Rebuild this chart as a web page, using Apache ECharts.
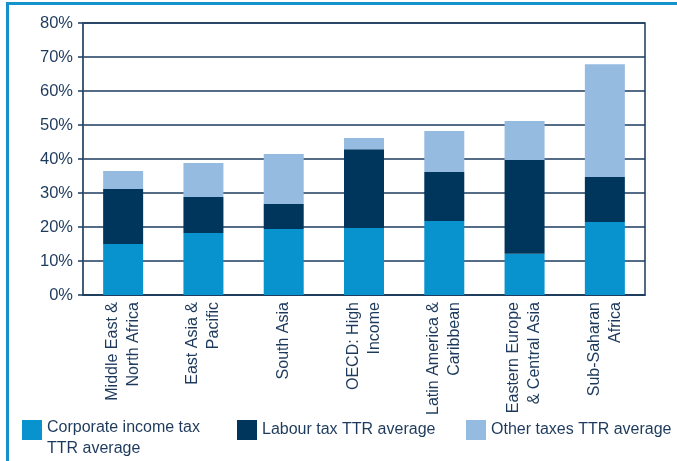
<!DOCTYPE html>
<html>
<head>
    <meta charset="UTF-8"/>
    <script src="https://cdn.jsdelivr.net/npm/echarts@6/dist/echarts.min.js"></script>
    <title>Total tax rate by region</title>
    <style>
        body { margin: 0; background: #fff; }
        #main { position: absolute; left: 0; top: 0; width: 677px; height: 461px; }
        #frame {
            position: absolute; left: 6px; top: 2px; width: 680px; height: 456px;
            border-left: 3px solid #1790cb; border-top: 3px solid #1593cc;
            border-bottom: 2px solid #b0def2; pointer-events: none;
        }
    </style>
</head>
<body>
<div id="main"></div>
<div id="frame"></div>
<script type="text/javascript">
    var regions = ['Middle East &\nNorth Africa', 'East Asia &\nPacific', 'South Asia',
        'OECD: High\nIncome', 'Latin America &\nCaribbean', 'Eastern Europe\n& Central Asia',
        'Sub-Saharan\nAfrica'];
    // values in % of commercial profit
    var corporateTax = [15.0, 18.2, 19.4, 19.7, 21.8, 12.1, 21.5];
    var labourTax = [16.2, 10.6, 7.4, 23.2, 14.4, 27.6, 13.2];
    var otherTaxes = [5.3, 10.0, 14.7, 3.3, 12.0, 11.5, 33.2];

    var textColor = '#1d3a5c';
    var font = 'Liberation Sans, Arial, sans-serif';

    var myChart = echarts.init(document.getElementById('main'));
    var option = {
        animation: false,
        textStyle: {fontFamily: font},
        grid: {
            left: 83, right: 32, top: 23, bottom: 166,
            show: true, borderColor: '#1d3b5e', borderWidth: 1.5
        },
        legend: [
            {
                data: ['Corporate income tax TTR average'],
                left: 22, top: 420, padding: 0,
                itemWidth: 20, itemHeight: 20, itemGap: 5,
                icon: 'rect',
                // first line sits level with the swatch, second one hangs below it
                formatter: function () { return '{a|Corporate income tax}\n{b|TTR average}'; },
                textStyle: {
                    fontSize: 16, color: textColor,
                    rich: {
                        a: {fontSize: 16, color: textColor, lineHeight: 38},
                        b: {fontSize: 16, color: textColor, lineHeight: 4}
                    }
                }
            },
            {
                data: ['Labour tax TTR average'],
                left: 237, top: 420, padding: 0,
                itemWidth: 20, itemHeight: 20,
                icon: 'rect',
                textStyle: {fontSize: 16, color: textColor}
            },
            {
                data: ['Other taxes TTR average'],
                left: 466, top: 420, padding: 0,
                itemWidth: 20, itemHeight: 20,
                icon: 'rect',
                textStyle: {fontSize: 16, color: textColor}
            }
        ],
        xAxis: {
            type: 'category',
            data: regions,
            axisLine: {lineStyle: {color: '#1d3b5e', width: 1.5}},
            axisTick: {show: false},
            axisLabel: {
                interval: 0, rotate: 90, margin: 7,
                fontSize: 16, lineHeight: 21, color: textColor
            }
        },
        yAxis: {
            type: 'value',
            min: 0, max: 80, interval: 10,
            axisLine: {show: true, lineStyle: {color: '#3a5877', width: 1.5}},
            axisTick: {show: true, length: 5, lineStyle: {color: '#1d3b5e', width: 1.5}},
            axisLabel: {formatter: '{value}%', fontSize: 16.5, color: textColor, margin: 10},
            splitLine: {lineStyle: {color: '#1d3b5e', width: 1.5}}
        },
        series: [
            {
                name: 'Corporate income tax TTR average', type: 'bar', stack: 'ttr',
                barWidth: 40, itemStyle: {color: '#0893cf'}, data: corporateTax
            },
            {
                name: 'Labour tax TTR average', type: 'bar', stack: 'ttr',
                barWidth: 40, itemStyle: {color: '#00355c'}, data: labourTax
            },
            {
                name: 'Other taxes TTR average', type: 'bar', stack: 'ttr',
                barWidth: 40, itemStyle: {color: '#96bbe0'}, data: otherTaxes
            }
        ]
    };
    myChart.setOption(option);
</script>
</body>
</html>
